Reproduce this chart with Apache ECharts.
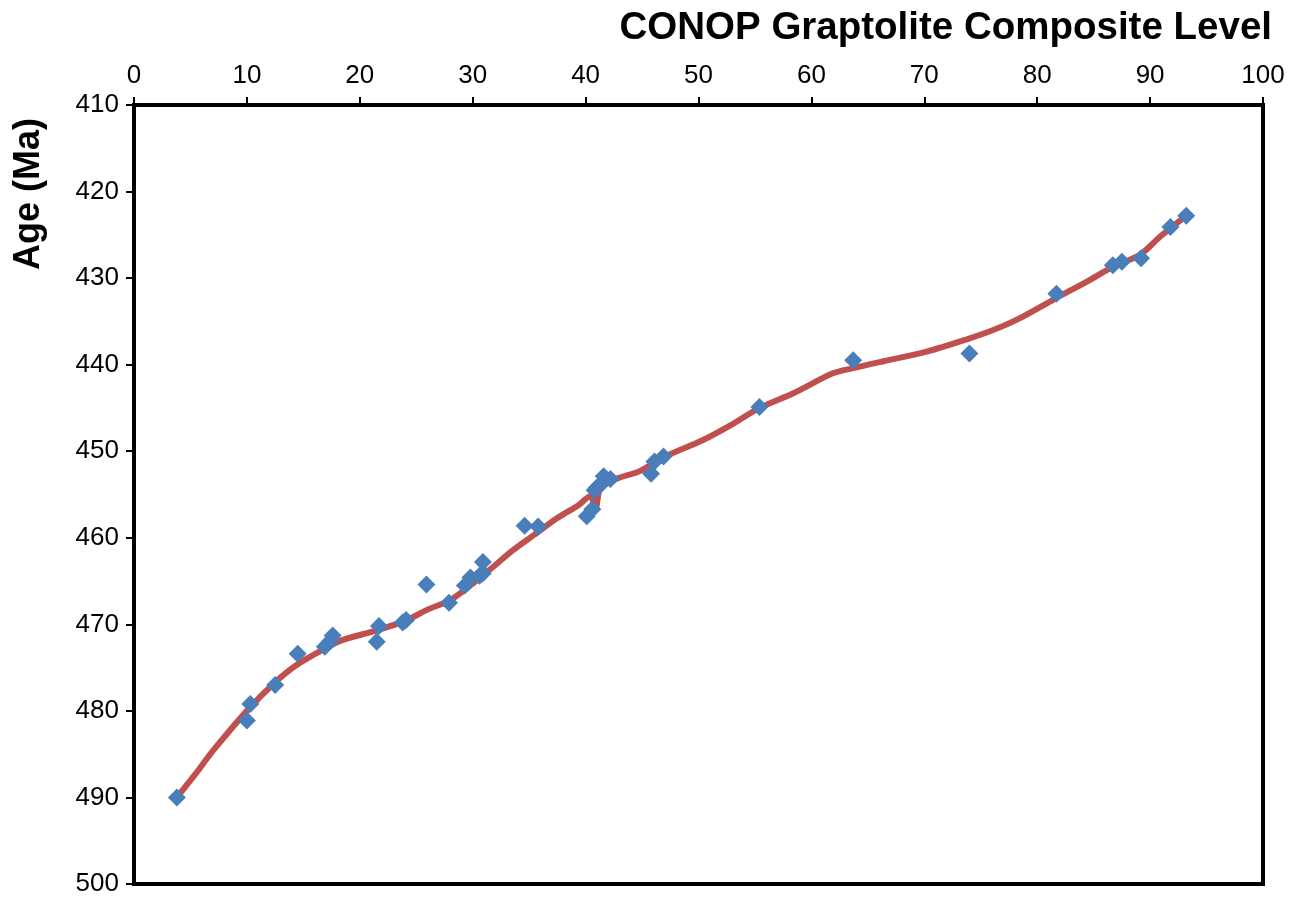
<!DOCTYPE html>
<html>
<head>
<meta charset="utf-8">
<script src="https://cdn.jsdelivr.net/npm/echarts@6/dist/echarts.min.js"></script>
<style>
  html, body { margin: 0; padding: 0; background: #fff; }
  #chart { width: 1308px; height: 906px; }
</style>
</head>
<body>
<div id="chart"></div>
<script>
// Composite level of each graptolite datum and its calibrated age (Ma)
const levelValues = [3.8, 10.0, 10.3, 12.5, 14.5, 16.9, 17.4, 17.6, 21.5, 21.7, 23.8, 24.1, 25.9, 27.9,
  29.3, 29.8, 30.6, 30.9, 30.9, 34.6, 35.8, 40.1, 40.6, 40.8, 41.0, 41.3, 41.6, 42.2,
  45.8, 46.1, 46.9, 55.4, 63.7, 74.0, 81.7, 86.7, 87.5, 89.2, 91.8, 93.2];
const ageValues = [490.0, 481.1, 479.2, 477.0, 473.4, 472.6, 471.9, 471.3, 472.0, 470.2, 469.8, 469.5, 465.4, 467.5,
  465.5, 464.6, 464.4, 462.8, 464.1, 458.6, 458.7, 457.5, 456.7, 454.5, 454.2, 453.9, 452.9, 453.2,
  452.6, 451.2, 450.6, 444.9, 439.5, 438.7, 431.8, 428.5, 428.1, 427.7, 424.1, 422.8];

// Fitted age model through the composite
const fitLevel = [3.8, 5.5, 7.0, 10.0, 12.5, 14.4, 16.9, 18.5, 21.5, 24.0, 26.0, 28.0, 30.0, 31.5, 33.6, 35.4,
  37.4, 39.4, 40.4, 40.9, 41.3, 42.7, 44.8, 46.9, 50.4, 53.1, 55.4, 58.4, 61.9, 63.7, 66.4, 70.2,
  73.7, 76.1, 78.2, 81.7, 84.4, 86.7, 89.1, 90.9, 92.9];
const fitAge = [490.0, 487.2, 484.6, 480.0, 476.7, 474.7, 472.8, 471.8, 470.7, 469.6, 468.3, 467.2, 465.3, 463.7, 461.4, 459.7,
  457.8, 456.2, 455.2, 456.5, 454.3, 453.2, 452.3, 450.7, 448.7, 446.8, 445.0, 443.3, 441.0, 440.4, 439.6, 438.5,
  437.1, 436.0, 434.8, 432.3, 430.4, 428.7, 427.3, 425.2, 423.1];

const xTicks = [0, 10, 20, 30, 40, 50, 60, 70, 80, 90, 100];
const yTicks = [410, 420, 430, 440, 450, 460, 470, 480, 490, 500];

const pts = levelValues.map((v, i) => [v, ageValues[i]]);
const fit = fitLevel.map((v, i) => [v, fitAge[i]]);

const chart = echarts.init(document.getElementById('chart'), null, { renderer: 'canvas' });
const font = 'Liberation Sans, Arial, Helvetica, sans-serif';

chart.setOption({
  backgroundColor: '#fff',
  animation: false,
  grid: {
    left: 134, right: 45, top: 105, bottom: 22,
    show: true, borderColor: '#000', borderWidth: 4, backgroundColor: 'transparent'
  },
  xAxis: {
    type: 'value', position: 'top',
    min: xTicks[0], max: xTicks[xTicks.length - 1], interval: 10,
    axisLine: { show: true, lineStyle: { color: '#000', width: 4 } },
    axisTick: { show: true, inside: false, length: 8, lineStyle: { color: '#000', width: 2 } },
    splitLine: { show: false },
    axisLabel: { color: '#000', fontSize: 26, fontFamily: font, margin: 16 }
  },
  yAxis: {
    type: 'value', inverse: true,
    min: yTicks[0], max: yTicks[yTicks.length - 1], interval: 10,
    axisLine: { show: true, lineStyle: { color: '#000', width: 4 } },
    axisTick: { show: true, inside: false, length: 8, lineStyle: { color: '#000', width: 2 } },
    splitLine: { show: false },
    axisLabel: { color: '#000', fontSize: 26, fontFamily: font, margin: 15 }
  },
  graphic: [
    {
      type: 'text', right: 36, top: 9,
      style: { text: 'CONOP Graptolite Composite Level', font: 'bold 38.5px ' + font, fill: '#000' }
    },
    {
      type: 'text', left: 11, top: 118, rotation: Math.PI / 2,
      style: { text: 'Age (Ma)', font: 'bold 36px ' + font, fill: '#000', align: 'center', verticalAlign: 'top' }
    }
  ],
  series: [
    {
      type: 'line', data: fit, smooth: 0.3, showSymbol: false, z: 2,
      lineStyle: { color: '#C0504D', width: 6 }
    },
    {
      type: 'scatter', data: pts, symbol: 'diamond', symbolSize: 18, z: 3,
      itemStyle: { color: '#4A7EBB', opacity: 1 }
    }
  ]
});
</script>
</body>
</html>
